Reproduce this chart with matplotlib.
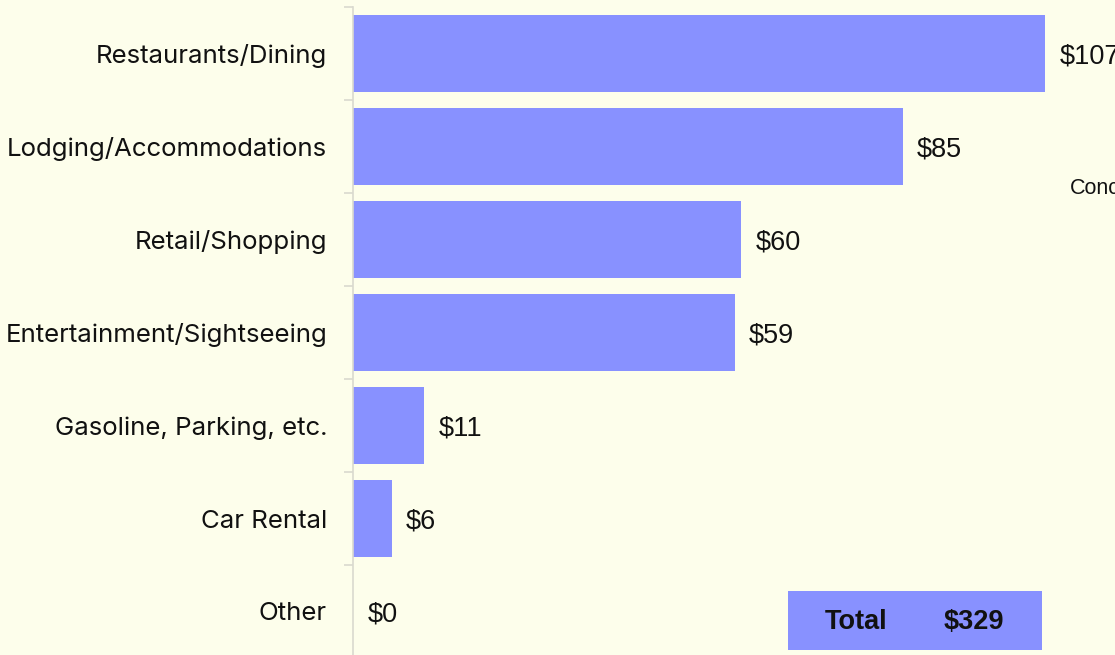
import matplotlib
matplotlib.use("Agg")
import matplotlib.pyplot as plt
from matplotlib.patches import Rectangle

# data
categories = ["Restaurants/Dining", "Lodging/Accommodations", "Retail/Shopping",
              "Entertainment/Sightseeing", "Gasoline, Parking, etc.", "Car Rental", "Other"]
values = [107, 85, 60, 59, 11, 6, 0]
value_labels = ["$107", "$85", "$60", "$59", "$11", "$6", "$0"]
total_label = "$329"

BG = "#fdfeeb"
BAR = "#8891ff"
GRID = "#d9d9cf"
INK = "#111111"

plt.rcParams['font.family'] = ['Liberation Sans', 'DejaVu Sans']

fig = plt.figure(figsize=(11.15, 6.55), dpi=100, facecolor=BG)
W, H = 1115, 655

# axes: spine at x=353, bands of 93 px starting at y=7
ax = fig.add_axes([353 / W, (H - 658) / H, (W - 353) / W, 651 / H])
ax.set_facecolor(BG)

y = list(range(len(categories)))
ax.barh(y, values, height=0.83, color=BAR, edgecolor="none")
ax.set_xlim(0, (W - 353) / 6.47)
ax.set_ylim(6.5, -0.5)

for yi, v, lab in zip(y, values, value_labels):
    ax.text(v + 2.2, yi, lab, va="center_baseline", ha="left", fontsize=19.5, color=INK)

ax.set_yticks(y)
ax.set_yticklabels(categories, fontsize=18.6, color=INK, family=['Inter', 'DejaVu Sans'])
ax.tick_params(axis="y", which="major", length=0, pad=18.7)
ax.set_yticks([i - 0.5 for i in range(len(categories))], minor=True)
ax.tick_params(axis="y", which="minor", length=6.5, width=1.2, color=GRID)
ax.set_xticks([])

for s in ["top", "right", "bottom"]:
    ax.spines[s].set_visible(False)
ax.spines["left"].set_color(GRID)
ax.spines["left"].set_linewidth(1.2)

# annotation cut by the right edge, as in the reference
fig.text(1070 / W, 1 - 188 / H, "Concessions", fontsize=15.5, va="center", ha="left", color=INK)

# total box
fig.patches.append(Rectangle((788 / W, 1 - 650 / H), (1042 - 788) / W, 59 / H,
                             transform=fig.transFigure, facecolor=BAR, edgecolor="none"))
fig.text(856 / W, 1 - 622 / H, "Total", fontsize=19.5, fontweight="bold", ha="center", va="center", color=INK)
fig.text(974 / W, 1 - 622 / H, total_label, fontsize=19.5, fontweight="bold", ha="center", va="center", color=INK)

fig.savefig("out.png", dpi=100, facecolor=BG)
